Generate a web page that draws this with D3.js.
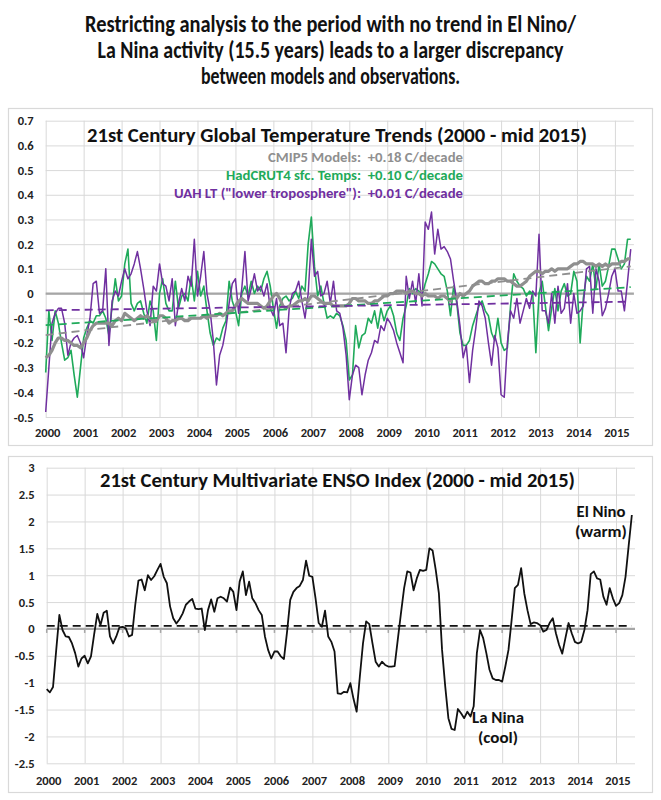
<!DOCTYPE html>
<html><head><meta charset="utf-8">
<script src="https://cdn.jsdelivr.net/npm/d3@7"></script>
<style>
body{margin:0;background:#fff}
svg{display:block}
text{font-family:Carlito,Lato,"Open Sans",sans-serif;font-weight:bold}
</style>
</head><body>
<svg id="c" width="661" height="800"></svg>
<script>
// ---------------- DATA ----------------
const headline = [
  "Restricting analysis to the period with no trend in El Nino/",
  "La Nina activity (15.5 years) leads to a larger discrepancy",
  "between models and observations."
];
const topTitle = "21st Century Global Temperature Trends (2000 - mid 2015)";
const bottomTitle = "21st Century Multivariate ENSO Index (2000 - mid 2015)";
const legendLabels = [
  "CMIP5 Models:  +0.18 C/decade",
  "HadCRUT4 sfc. Temps:  +0.10 C/decade",
  "UAH LT (\"lower troposphere\"):  +0.01 C/decade"
];
const yearTicks = [2000,2001,2002,2003,2004,2005,2006,2007,2008,2009,2010,2011,2012,2013,2014,2015];
const tempTicks = [0.7,0.6,0.5,0.4,0.3,0.2,0.1,0,-0.1,-0.2,-0.3,-0.4,-0.5];
const meiTicks = [3,2.5,2,1.5,1,0.5,0,-0.5,-1,-1.5,-2,-2.5];

// monthly values, Jan 2000 .. Jun 2015 (186 months)
const hadcrut4 = [
 -0.32,-0.07,-0.19,-0.07,-0.12,-0.20,-0.27,-0.26,-0.23,-0.33,-0.42,-0.30,
 -0.18,-0.14,-0.11,-0.12,-0.09,-0.09,-0.07,-0.10,-0.17,-0.05, 0.06,-0.03,
 -0.01, 0.12, 0.18,-0.04,-0.07,-0.04,-0.03,-0.08,-0.12,-0.03,-0.07,-0.19,
  0.00, 0.06,-0.04,-0.07,-0.07, 0.05,-0.06,-0.01, 0.00,-0.03, 0.07,-0.03,
  0.09,-0.01, 0.03,-0.07,-0.16,-0.21,-0.18,-0.19,-0.14,-0.11, 0.05,-0.03,
 -0.07,-0.13, 0.00, 0.03,-0.01, 0.05, 0.00, 0.03, 0.01, 0.06, 0.09, 0.03,
 -0.06,-0.14,-0.05,-0.02,-0.01,-0.03,-0.02, 0.01,-0.02, 0.03, 0.01, 0.20,
  0.31, 0.11,-0.01, 0.03,-0.04,-0.10,-0.09,-0.10,-0.08,-0.09,-0.13,-0.19,
 -0.35,-0.33,-0.13,-0.22,-0.17,-0.16,-0.10,-0.12,-0.07,-0.14,-0.06,-0.11,
 -0.07,-0.05,-0.09,-0.16,-0.19,-0.10,-0.05, 0.02, 0.00, 0.02, 0.01,-0.01,
  0.04, 0.08, 0.13, 0.12, 0.10, 0.08, 0.07, 0.01,-0.09, 0.03,-0.04,-0.16,
 -0.21,-0.21,-0.19,-0.13,-0.09,-0.05,-0.03,-0.07,-0.09,-0.16,-0.19,-0.10,
 -0.20,-0.23,-0.22,-0.05, 0.08, 0.05, 0.03, 0.02,-0.01, 0.01, 0.00,-0.24,
  0.00, 0.05,-0.05,-0.15,-0.06, 0.02,-0.07, 0.01, 0.04,-0.01, 0.00, 0.09,
  0.05,-0.20,-0.02, 0.07, 0.05, 0.12, 0.02, 0.12, 0.03, 0.05, 0.11, 0.18,
  0.18, 0.14, 0.10, 0.12, 0.22, 0.22
];
const uah = [
 -0.48,-0.30,-0.12,-0.08,-0.06,-0.06,-0.12,-0.25,-0.20,-0.18,-0.17,-0.20,
 -0.26,-0.17,-0.10, 0.04, 0.05,-0.08,-0.07, 0.10,-0.21,-0.03, 0.01,-0.01,
  0.05, 0.10, 0.06, 0.08, 0.12, 0.17, 0.10, 0.02,-0.07,-0.13, 0.03, 0.01,
  0.12, 0.04, 0.03,-0.03, 0.06,-0.13,-0.04, 0.02,-0.03, 0.07, 0.03, 0.22,
 -0.01, 0.07, 0.17, 0.00,-0.07,-0.19,-0.37,-0.25,-0.21,-0.14,-0.04, 0.04,
  0.06,-0.08, 0.02, 0.17,-0.03, 0.02, 0.08, 0.01, 0.03,-0.01, 0.04,-0.06,
 -0.09,-0.02,-0.13,-0.12,-0.24,-0.06, 0.00, 0.01, 0.05,-0.03,-0.10, 0.00,
  0.22, 0.07, 0.09,-0.01, 0.00, 0.05,-0.04, 0.05,-0.07,-0.08,-0.14,-0.25,
 -0.43,-0.33,-0.29,-0.30,-0.41,-0.33,-0.27,-0.24,-0.19,-0.20,-0.13,-0.15,
 -0.10,-0.12,-0.15,-0.20,-0.24,-0.28, 0.07,-0.02, 0.05,-0.04, 0.08,-0.05,
  0.29, 0.26, 0.33, 0.16, 0.26, 0.18, 0.19, 0.17, 0.14, 0.05,-0.03,-0.13,
 -0.26,-0.21,-0.36,-0.23,-0.14,-0.03,-0.05,-0.10,-0.20,-0.29,-0.17,-0.22,
 -0.41,-0.42,-0.20,-0.07,-0.10,-0.02,-0.12,-0.07,-0.02,-0.06, 0.01,-0.01,
  0.24,-0.07,-0.07,-0.12, 0.00,-0.12, 0.03,-0.08,-0.06, 0.04,-0.12, 0.00,
 -0.08,-0.07,-0.05, 0.10, 0.11,-0.08, 0.10, 0.05,-0.09,-0.06, 0.00, 0.07,
  0.10, 0.01, 0.01,-0.07, 0.05, 0.18
];
const cmip5 = [
 -0.26,-0.25,-0.23,-0.20,-0.18,-0.18,-0.19,-0.19,-0.20,-0.21,-0.21,-0.22,
 -0.20,-0.18,-0.15,-0.13,-0.12,-0.12,-0.12,-0.12,-0.12,-0.13,-0.11,-0.10,
 -0.11,-0.08,-0.09,-0.10,-0.11,-0.10,-0.09,-0.10,-0.09,-0.10,-0.11,-0.11,
 -0.09,-0.09,-0.10,-0.12,-0.11,-0.11,-0.10,-0.10,-0.11,-0.11,-0.10,-0.10,
 -0.10,-0.10,-0.09,-0.10,-0.09,-0.09,-0.09,-0.08,-0.09,-0.08,-0.07,-0.07,
 -0.05,-0.03,-0.02,-0.03,-0.04,-0.04,-0.04,-0.04,-0.05,-0.06,-0.05,-0.03,
 -0.01, 0.00,-0.02,-0.05,-0.06,-0.05,-0.05,-0.04,-0.03,-0.03,-0.02,-0.03,
 -0.01,-0.01,-0.02,-0.03,-0.04,-0.04,-0.04,-0.05,-0.05,-0.05,-0.05,-0.05,
 -0.04,-0.02,-0.02,-0.03,-0.03,-0.03,-0.04,-0.04,-0.03,-0.03,-0.02,-0.01,
 -0.01, 0.00, 0.00, 0.01, 0.01, 0.01, 0.00, 0.01, 0.01, 0.00, 0.00,-0.01,
  0.00,-0.01,-0.01,-0.01,-0.02,-0.01,-0.01,-0.02,-0.03,-0.01,-0.02, 0.00,
 -0.01, 0.00, 0.01, 0.03, 0.04, 0.05, 0.05, 0.04, 0.04, 0.05, 0.05, 0.06,
  0.06, 0.06, 0.05, 0.05, 0.04, 0.03, 0.03, 0.04, 0.05, 0.07, 0.08, 0.09,
  0.09, 0.08, 0.09, 0.09, 0.10, 0.09, 0.10, 0.10, 0.10, 0.10, 0.11, 0.12,
  0.12, 0.13, 0.13, 0.12, 0.12, 0.12, 0.11, 0.12, 0.11, 0.12, 0.11, 0.12,
  0.12, 0.12, 0.13, 0.13, 0.14, 0.14
];
const mei = [
 -1.12,-1.18,-1.08,-0.40, 0.26,-0.02,-0.14,-0.15,-0.27,-0.45,-0.70,-0.55,
 -0.50,-0.64,-0.51,-0.10, 0.28, 0.07, 0.30, 0.34,-0.14,-0.27,-0.14, 0.03,
  0.04, 0.01,-0.14,-0.11, 0.45, 0.90, 0.92, 0.72, 1.00, 0.91, 0.98, 1.10,
  1.21, 0.97, 0.85, 0.42, 0.20, 0.10, 0.18, 0.29, 0.45, 0.51, 0.56, 0.38,
  0.37, 0.38,-0.02, 0.35, 0.55, 0.32, 0.57, 0.60, 0.57, 0.51, 0.77, 0.69,
  0.35, 0.88, 1.07, 0.63, 0.88, 0.57, 0.48, 0.35, 0.26,-0.14,-0.39,-0.55,
 -0.42,-0.42,-0.51,-0.56,-0.05, 0.54, 0.69, 0.76, 0.80, 0.91, 1.27, 0.99,
  0.97, 0.57, 0.11, 0.04, 0.34,-0.14,-0.24,-0.42,-1.20,-1.21,-1.17,-1.18,
 -1.01,-1.30,-1.54,-0.89,-0.27, 0.14, 0.09,-0.27,-0.61,-0.70,-0.61,-0.67,
 -0.70,-0.70,-0.69,-0.20, 0.29, 0.76, 1.07, 1.05, 0.72, 0.94, 1.10, 1.08,
  1.10, 1.50, 1.46, 1.10, 0.66,-0.39,-1.07,-1.66,-1.86,-1.88,-1.49,-1.57,
 -1.66,-1.54,-1.63,-1.44,-0.45,-0.02,-0.17,-0.45,-0.76,-0.92,-0.95,-0.95,
 -0.98,-0.70,-0.39, 0.17, 0.76, 0.82, 1.13, 0.66, 0.35, 0.09, 0.12, 0.11,
  0.07,-0.05,-0.02, 0.11, 0.20,-0.08,-0.30,-0.46,-0.17, 0.11,-0.08,-0.24,
 -0.27,-0.24,-0.02, 0.35, 1.02, 1.07, 0.94, 0.92, 0.60, 0.45, 0.76, 0.57,
  0.43, 0.48, 0.63, 0.97, 1.55, 2.12
];
// linear trend lines: value at Jan 2000 and at Jun 2015
const cmip5Trend = [-0.168, 0.110];
const hadcrutTrend = [-0.128, 0.026];
const uahTrend = [-0.068, -0.033];
const meiTrend = [0.056, 0.056];
const annotations = [["El Nino","(warm)"],["La Nina","(cool)"]];

// ---------------- DRAW ----------------
const svg = d3.select("#c");
const GREEN = "#1faa5a", PURPLE = "#7030a0", GRAY = "#8f8f8f", GRID = "#d9d9d9", ZERO = "#a6a6a6";
const t = i => 2000 + i / 12;
const tEnd = t(185);

// headline
headline.forEach((s, k) => {
  svg.append("text").attr("x", 330.5).attr("y", [32, 58, 84][k])
    .attr("text-anchor", "middle").attr("font-size", 23.5).attr("fill", "#111")
    .attr("textLength", [491, 466, 259][k]).attr("lengthAdjust", "spacingAndGlyphs")
    .text(s);
});

// panels
[[108.5, 445.5], [456.5, 792.5]].forEach(([a, b]) => {
  svg.append("rect").attr("x", 8.5).attr("y", a).attr("width", 644).attr("height", b - a)
    .attr("fill", "#fff").attr("stroke", GRID).attr("stroke-width", 1.2);
});

function frame(g, x, y, yTicks, yFmt, labelPad) {
  const w = x.range()[1] - x.range()[0];
  const h = y.range()[0] - y.range()[1];
  const ya = g.append("g").attr("transform", `translate(${x.range()[0]},0)`)
    .call(d3.axisLeft(y).tickValues(yTicks).tickSize(-w).tickPadding(12).tickFormat(yFmt));
  ya.select(".domain").remove();
  ya.selectAll("line").attr("stroke", GRID).attr("stroke-width", 1);
  ya.selectAll("text").attr("font-size", 12.5).attr("fill", "#222");
  const xa = g.append("g").attr("transform", `translate(0,${y.range()[0]})`)
    .call(d3.axisBottom(x).tickValues(yearTicks).tickSize(-h).tickPadding(labelPad).tickFormat(d3.format("d")));
  xa.select(".domain").remove();
  xa.selectAll("line").attr("stroke", GRID).attr("stroke-width", 1);
  xa.selectAll("text").attr("font-size", 12.5).attr("fill", "#222").attr("dx", 1.5);
}
const fmt = v => (v === 0 ? "0" : String(v));

// ---- top chart ----
const xT = d3.scaleLinear().domain([2000, 2015.5]).range([45.7, 633.9]);
const yT = d3.scaleLinear().domain([-0.5, 0.7]).range([417, 120.7]);
const gT = svg.append("g");
frame(gT, xT, yT, tempTicks, fmt, 11);
gT.append("line").attr("x1", xT(2000)).attr("x2", xT(2015.5)).attr("y1", yT(0)).attr("y2", yT(0))
  .attr("stroke", ZERO).attr("stroke-width", 2.2);

const lineT = d3.line().x((d, i) => xT(t(i))).y(d => yT(d));
gT.append("path").datum(hadcrut4).attr("d", lineT).attr("fill", "none").attr("stroke", GREEN).attr("stroke-width", 1.6).attr("stroke-linejoin", "round");
gT.append("path").datum(uah).attr("d", lineT).attr("fill", "none").attr("stroke", PURPLE).attr("stroke-width", 1.5).attr("stroke-linejoin", "round");
gT.append("path").datum(cmip5).attr("d", lineT).attr("fill", "none").attr("stroke", GRAY).attr("stroke-width", 3.2).attr("stroke-linejoin", "round");

[[cmip5Trend, GRAY], [hadcrutTrend, GREEN], [uahTrend, PURPLE]].forEach(([tr, c]) => {
  gT.append("line").attr("x1", xT(2000)).attr("x2", xT(tEnd)).attr("y1", yT(tr[0])).attr("y2", yT(tr[1]))
    .attr("stroke", c).attr("stroke-width", 1.8).attr("stroke-dasharray", "8,5");
});

gT.append("text").attr("x", 87).attr("y", 141.5).attr("font-size", 19.5).attr("fill", "#111")
  .attr("textLength", 500).attr("lengthAdjust", "spacingAndGlyphs").text(topTitle);
const legColors = [GRAY, GREEN, PURPLE];
const legStart = [268, 226, 174];
legendLabels.forEach((s, k) => {
  gT.append("text").attr("x", legStart[k]).attr("y", [162, 180, 197.5][k]).attr("font-size", 13.5)
    .attr("fill", legColors[k]).attr("textLength", 463 - legStart[k]).attr("lengthAdjust", "spacingAndGlyphs")
    .style("white-space", "pre").text(s);
});

// ---- bottom chart ----
const xB = d3.scaleLinear().domain([2000, 2015.5]).range([46.7, 635]);
const yB = d3.scaleLinear().domain([-2.5, 3]).range([763.3, 467.7]);
const gB = svg.append("g");
frame(gB, xB, yB, meiTicks, fmt, 13);
gB.append("line").attr("x1", xB(2000)).attr("x2", xB(2015.5)).attr("y1", yB(0)).attr("y2", yB(0))
  .attr("stroke", ZERO).attr("stroke-width", 2.2);
gB.selectAll(".ztick").data(yearTicks).enter().append("line")
  .attr("x1", d => xB(d)).attr("x2", d => xB(d)).attr("y1", yB(0)).attr("y2", yB(0) + 4)
  .attr("stroke", ZERO).attr("stroke-width", 1.5);
gB.append("line").attr("x1", xB(2000)).attr("x2", xB(tEnd)).attr("y1", yB(meiTrend[0])).attr("y2", yB(meiTrend[1]))
  .attr("stroke", "#111").attr("stroke-width", 1.8).attr("stroke-dasharray", "8,5");
const lineB = d3.line().x((d, i) => xB(t(i))).y(d => yB(d));
gB.append("path").datum(mei).attr("d", lineB).attr("fill", "none").attr("stroke", "#111").attr("stroke-width", 1.8).attr("stroke-linejoin", "round");

gB.append("text").attr("x", 100).attr("y", 487).attr("font-size", 19.5).attr("fill", "#111")
  .attr("textLength", 475).attr("lengthAdjust", "spacingAndGlyphs").text(bottomTitle);

// annotations
const ann = [
  {lines: annotations[0], x: 601, ys: [517, 537], w: [49, 52]},
  {lines: annotations[1], x: 498, ys: [723, 743], w: [52, 40]}
];
ann.forEach(a => a.lines.forEach((s, k) => {
  gB.append("text").attr("x", a.x).attr("y", a.ys[k]).attr("text-anchor", "middle")
    .attr("font-size", 15).attr("fill", "#111")
    .attr("textLength", a.w[k]).attr("lengthAdjust", "spacingAndGlyphs").text(s);
}));
</script>
</body></html>
